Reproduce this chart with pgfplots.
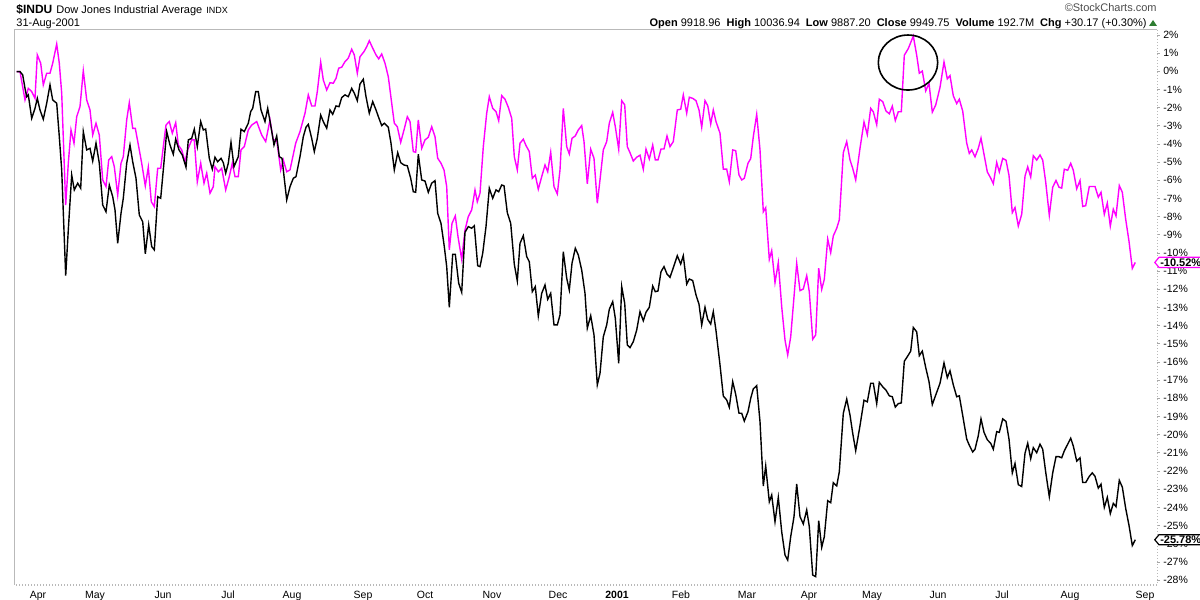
\documentclass[border=0pt]{standalone}
\usepackage{fontspec}
\setmainfont{Liberation Sans}
\usepackage{pgfplots}
\pgfplotsset{compat=1.18}
\usepackage{pgfplotstable}
\usetikzlibrary{shapes.symbols}
\definecolor{mag}{RGB}{255,0,255}
\definecolor{upgreen}{RGB}{46,125,50}

\pgfplotstableread{
x y
16.7 -0.02
20 -0.02
25 -1.58
28.3 -0.94
31.7 -1.12
35 -1.49
37.3 0.90
40.7 0.44
43.3 -0.75
46.7 -0.11
50 -0.11
52.7 0.44
56.7 1.50
59.3 0.44
61.7 -1.21
65.7 -7.36
68.3 -5.06
71 -3.23
74 -3.96
76.7 -2.50
80 -1.95
83.3 0.03
86.7 -1.58
90 -2.13
92.7 -3.51
96 -2.86
99.3 -3.51
102.7 -5.98
106 -6.35
108.7 -4.88
111.7 -4.70
114.3 -5.25
117.7 -6.81
121 -5.06
123.3 -4.70
126.7 -2.68
129.3 -1.73
132.7 -3.14
135.3 -3.14
138.7 -4.15
141.7 -5.06
145.3 -6.31
148.3 -5.28
151.3 -7.18
154.3 -7.45
157.7 -5.34
160.7 -5.34
163.3 -4.15
166 -2.96
169.3 -2.77
172.3 -3.41
175.7 -2.83
178.3 -4.06
181.7 -4.33
185 -4.98
187.7 -4.33
191.7 -3.78
194.3 -3.78
197.3 -6.08
200.7 -5.06
204 -6.16
206.7 -5.61
210 -6.71
213.3 -6.35
215 -5.25
218.3 -5.53
221.7 -5.34
225.7 -6.53
229.3 -5.80
232.3 -5.06
235 -5.80
238.3 -5.80
241 -4.33
244.3 -4.15
248.3 -3.23
251.7 -2.96
256.7 -2.77
261.7 -3.51
265.7 -3.87
270 -2.68
273.3 -3.78
276.7 -3.78
280.7 -5.43
283.3 -4.88
286.7 -5.53
290 -5.43
295.7 -3.96
300 -3.32
305 -2.31
308.3 -1.30
311.7 -1.91
315 -1.91
317.3 -1.12
320.7 0.50
323.3 -0.48
326.7 -1.03
330 -0.63
333.3 -0.66
336 -0.39
338.7 0.17
341.7 0.22
345 0.53
348.3 0.72
351.7 1.21
354.3 0.90
357.3 -0.11
360 0.80
364 1.08
366.7 1.35
369.3 1.68
372.7 1.27
376 0.90
378.7 0.68
381.7 0.95
385 0.44
388.3 -0.30
391.7 -1.76
394.3 -2.86
397.3 -3.05
400.7 -3.91
404 -3.23
407.3 -2.50
410 -2.77
413.3 -4.42
415.7 -4.46
418.3 -2.68
421.7 -4.24
425 -3.78
428.3 -3.63
431.7 -3.05
435 -3.60
437.7 -4.79
441 -5.06
444 -5.43
446.7 -6.35
449.3 -9.83
452 -8.37
455.3 -7.96
458 -9.10
461.7 -10.35
465 -8.73
468.3 -8.00
471.7 -7.63
475 -6.53
477.3 -7.18
480 -6.71
483.3 -4.15
486.7 -2.31
489.3 -1.40
492.7 -2.04
496 -2.22
498.7 -2.72
501.7 -1.34
505 -1.54
508.3 -1.98
511.7 -2.59
514.3 -4.70
517.3 -5.43
520 -3.96
523.3 -3.74
526 -4.09
529.3 -4.42
532.3 -5.89
535.3 -5.71
538.3 -6.49
541.7 -5.80
545 -5.16
547.7 -5.53
550.7 -4.46
554 -6.35
557.3 -6.75
560 -5.43
563.3 -2.04
566.7 -4.15
569.3 -4.55
572 -3.69
575.3 -3.56
578.3 -3.23
581.7 -2.99
584 -3.87
587.3 -6.20
590.7 -4.29
594 -4.79
597.3 -7.26
600 -5.98
603.3 -4.33
606.7 -3.87
609.3 -2.86
612.7 -2.26
615.3 -3.05
618.7 -4.29
621.7 -1.62
624.7 -1.85
627.3 -4.15
630 -4.48
633.3 -4.94
636.7 -4.73
640 -4.62
643.3 -5.39
646 -4.28
649.3 -4.83
652.7 -4.06
655.3 -4.88
658 -4.88
661 -4.28
664 -4.28
667 -3.56
670 -4.15
673.3 -3.87
677.3 -2.13
680.7 -2.09
683.3 -1.30
686.7 -2.31
689.3 -1.43
692.7 -1.49
696 -1.62
699 -2.13
701.7 -3.08
705 -1.62
707.7 -1.89
710.7 -2.90
713.3 -2.13
716 -2.77
720 -3.41
723.3 -5.39
726.7 -5.39
729.3 -6.08
732.7 -4.33
735.7 -4.37
739 -5.71
741.7 -5.98
744.3 -5.89
748 -5.06
750.7 -4.81
753.3 -3.60
756.7 -2.37
760 -4.33
763.3 -7.73
765.7 -7.51
769.3 -10.35
771.7 -9.87
775 -11.63
778.3 -10.53
781.7 -12.96
785 -14.79
787.7 -15.61
790.7 -14.61
794 -12.41
796.7 -10.57
800 -12.07
803.3 -11.98
806.7 -11.25
809.3 -12.13
812.7 -14.75
815.7 -14.51
818.7 -10.84
821.7 -12.00
824.3 -11.45
827.7 -9.23
830.7 -9.98
833.3 -9.06
836.7 -8.64
839.3 -8.18
843.3 -4.48
846.7 -3.87
850 -4.88
852.7 -5.34
855.7 -5.98
860 -4.24
864 -2.79
867.3 -3.49
870.7 -2.04
873.3 -2.23
876.7 -2.94
879.3 -1.54
882.7 -1.67
886 -2.19
889.3 -2.34
892.3 -1.92
895.3 -2.71
898.3 -2.23
901.3 -2.23
904.3 0.88
908.3 1.25
913.3 1.94
916.7 0.88
919.3 -0.11
922.3 0.01
925.7 -1.08
929 -0.67
932.3 -2.25
935.7 -1.86
940 -0.89
944 0.51
947.3 -0.42
950 -0.24
953.3 -1.35
956.7 -1.78
959.3 -1.54
962.7 -2.19
966.7 -3.96
969.3 -4.52
971.7 -4.33
975 -4.71
978.3 -4.24
981 -3.68
984 -4.57
987.3 -5.54
990.7 -5.88
993.3 -6.19
996.7 -5.02
999.3 -5.54
1002.7 -4.80
1006 -4.89
1009 -5.73
1012.3 -7.78
1015 -7.50
1018.3 -8.52
1021.7 -7.87
1025 -5.77
1027.7 -5.26
1030.7 -5.82
1033.3 -4.65
1036.7 -4.89
1040 -4.61
1042.7 -4.89
1045.7 -6.10
1049.3 -7.93
1052.7 -6.38
1056 -6.01
1059 -6.38
1061.7 -6.43
1064.3 -5.39
1067.7 -5.45
1070.7 -5.07
1073.3 -5.45
1076.7 -6.47
1080 -6.01
1082.7 -7.44
1085.7 -7.40
1089.3 -6.34
1095 -6.34
1098.3 -6.93
1101 -6.66
1104.3 -7.87
1107.3 -7.25
1110.3 -8.52
1113.3 -7.59
1116 -7.96
1119.3 -6.29
1122.3 -6.66
1125.7 -8.15
1129 -9.36
1132.3 -10.85
1135.3 -10.52
}\magdata

\pgfplotstableread{
x y
16.7 -0.02
20 -0.02
22.7 -0.20
25 -0.94
26.7 -1.40
28.3 -1.30
31.7 -2.59
35 -2.04
37.3 -1.49
40 -2.13
43.3 -2.64
46.7 -1.76
50 -0.75
52.7 -1.58
56.7 -1.76
59.3 -3.60
61.7 -5.43
65.7 -11.25
68.3 -8.73
71.7 -5.71
74.3 -6.53
77.7 -6.16
80.7 -6.44
83.3 -3.32
86.7 -4.33
90 -4.24
92.7 -4.94
96 -3.96
99.3 -5.06
102.7 -7.36
106 -7.73
109.3 -6.26
112.7 -6.90
115 -7.63
117.7 -9.47
121 -7.82
123.3 -6.99
126.7 -5.06
130 -4.06
132.7 -4.98
136 -5.89
139.3 -7.91
142.7 -8.28
145.3 -10.05
148.7 -8.46
151.7 -9.65
154.3 -9.83
157.7 -6.90
160.7 -6.99
163.3 -5.43
166.7 -3.32
170 -4.06
173.3 -4.57
175.7 -3.73
179 -4.33
182.3 -4.61
186 -5.28
188.3 -3.78
191.7 -3.69
194.3 -3.19
197.3 -4.15
200.7 -2.77
203.3 -3.23
205.7 -3.18
209.3 -4.79
212.3 -5.39
215 -4.73
217.7 -4.98
221 -4.79
223.3 -5.03
225.7 -5.61
228.3 -5.06
231 -3.91
234 -5.25
238.3 -4.70
241 -3.19
244.3 -3.32
248.3 -2.86
250.7 -2.22
252.7 -2.04
255.7 -1.12
258.3 -1.12
261 -2.13
265 -2.77
267.7 -2.04
270.7 -2.96
274 -4.06
276.7 -3.56
279.3 -4.70
282 -4.79
286.7 -7.08
290 -6.35
293.3 -5.89
296 -5.80
300 -4.70
303.3 -3.60
306 -3.08
308.3 -2.92
311.7 -3.69
314.3 -4.42
317.3 -3.69
320.7 -2.41
323.3 -2.77
326.7 -3.14
330 -2.13
332.7 -2.37
336 -1.91
339 -1.95
341.7 -1.45
345 -1.30
348.3 -1.40
351.7 -0.94
354.3 -1.21
357.3 -1.62
360 -0.70
363.3 -0.44
366 -1.40
369.3 -2.31
372.7 -1.67
376 -2.13
378.7 -2.55
381.7 -2.99
384.3 -2.86
388.3 -3.08
391 -3.96
394.3 -5.43
397.7 -4.48
400.7 -5.03
404 -5.16
407.3 -5.20
410.7 -5.89
413.3 -6.63
415.7 -6.66
418.3 -4.57
421.7 -5.98
425 -6.04
428.3 -6.66
431.7 -6.16
435 -6.02
437.7 -7.82
441 -8.37
444.3 -9.65
446.7 -10.75
449.3 -12.99
452.7 -10.07
455.3 -10.07
458.7 -11.67
461.7 -12.16
465 -8.86
468.3 -8.55
471.7 -8.64
474.3 -8.50
477.7 -10.70
480 -10.75
482.7 -10.02
486 -8.55
489.3 -6.44
492.7 -6.99
496 -6.53
498.7 -6.63
501.7 -6.26
504 -6.30
507.3 -7.78
510.7 -8.37
514.3 -10.62
517.3 -11.54
520 -9.47
523.3 -9.05
526.7 -10.20
529.3 -10.48
532.3 -12.13
535.3 -11.85
538.3 -13.47
541.7 -12.22
545 -11.76
547.7 -12.55
550.7 -12.22
554 -13.96
557.3 -13.96
560 -13.41
563.3 -9.93
566.7 -11.39
569.3 -12.04
572 -10.57
575.3 -9.74
578.3 -10.11
581.7 -10.94
585 -12.22
587.3 -14.14
590.7 -13.45
594 -14.51
597.3 -17.26
600 -16.62
603.3 -14.61
606.7 -13.96
609.3 -13.10
612.7 -12.68
615.3 -13.59
618.7 -16.07
621.7 -11.85
624.7 -12.77
627.3 -15.06
630 -15.21
633.3 -14.88
636.7 -14.24
640 -13.23
643.3 -13.73
646 -13.26
649.3 -12.99
652.7 -11.82
655.3 -12.13
658 -12.09
661 -11.03
664 -10.75
667 -11.16
670 -11.34
673.3 -10.81
677.3 -10.15
680.7 -10.61
683.3 -10.15
686.7 -11.71
689.3 -11.43
692.7 -11.52
696 -12.31
699 -12.82
701.7 -13.96
705 -12.99
707.7 -13.65
710.7 -13.91
713.3 -13.23
716 -14.28
720 -16.16
723.3 -17.87
726.7 -18.09
729.3 -18.49
732.7 -17.08
735.7 -17.78
739 -18.82
741.7 -18.82
744.3 -19.25
748 -18.73
750.7 -18.00
753.3 -17.48
756.7 -17.30
760 -19.28
763.3 -22.82
765.7 -21.72
769.3 -23.69
771.7 -23.32
775 -24.79
778.3 -23.45
781.7 -25.34
785 -26.62
787.7 -26.90
790.7 -25.61
794 -24.51
796.7 -22.71
800 -24.51
803.3 -24.91
806.7 -24.14
809.3 -25.06
812.7 -27.72
815.7 -27.81
818.7 -24.73
821.7 -26.20
824.3 -25.61
827.7 -23.63
830.7 -23.74
833.3 -22.64
836.7 -22.82
839.3 -22.04
843.3 -18.82
846.7 -18.04
850 -18.92
852.7 -19.92
855.7 -20.88
860 -19.50
864 -18.10
867.3 -18.19
870.7 -17.17
873.3 -17.17
876.7 -18.29
879.3 -17.12
882.7 -17.36
886 -17.55
889.3 -17.86
892.3 -17.91
895.3 -18.48
898.3 -18.29
901.3 -18.25
904.3 -15.96
908.3 -15.62
910.7 -15.40
913.3 -14.10
916.7 -14.34
919.3 -15.65
922.3 -15.40
925.7 -16.30
929 -17.08
932.3 -18.34
935.7 -17.82
940 -17.17
944 -16.05
947.3 -16.86
950 -16.48
953.3 -17.26
956.7 -17.91
959.3 -17.86
962.7 -18.94
966.7 -20.24
969.3 -20.58
972.7 -20.95
975 -20.80
978.3 -20.05
981 -19.13
984 -19.87
987.3 -20.28
990.7 -20.47
993.3 -20.80
996.7 -19.83
999.3 -19.87
1002.7 -19.13
1006 -19.27
1009 -20.24
1012.3 -22.10
1015 -21.58
1018.3 -22.75
1021.7 -22.85
1025 -21.02
1027.7 -20.47
1030.7 -21.32
1033.3 -20.71
1036.7 -20.99
1040 -20.52
1042.7 -20.80
1045.7 -22.06
1049.3 -23.41
1052.7 -22.10
1056 -21.21
1059 -21.21
1061.7 -21.27
1064.3 -20.89
1067.7 -20.52
1070.7 -20.19
1073.3 -20.62
1076.7 -21.45
1080 -21.27
1082.7 -22.63
1085.7 -22.63
1089.3 -22.29
1092.3 -22.10
1095 -22.29
1098.3 -22.94
1101 -22.72
1104.3 -24.00
1107.3 -23.45
1110.3 -24.34
1113.3 -23.78
1116 -23.96
1119.3 -22.51
1122.3 -22.88
1125.7 -24.06
1129 -24.99
1132.3 -26.10
1135.3 -25.78
}\blkdata

\begin{document}
\begin{tikzpicture}
\path[use as bounding box] (0,0) rectangle (600pt,300pt);
\begin{axis}[
  at={(7pt,7.5pt)}, anchor=south west,
  width=571.5pt, height=277.5pt, scale only axis,
  xmin=14, xmax=1157, ymin=-28.27, ymax=2.27,
  axis line style={draw=none},
  clip=false,
  xtick={38,95,163,228,292,363,425,492,558,617,681,747,809,872,938,1002,1070,1145},
  xticklabels={Apr,May,Jun,Jul,Aug,Sep,Oct,Nov,Dec,\textbf{2001},Feb,Mar,Apr,May,Jun,Jul,Aug,Sep},
  major x tick style={draw=none},
  xticklabel style={font=\fontsize{5.25}{6}\selectfont, text=black, inner sep=0pt, anchor=base, yshift=-5pt},
  ytick={-28,-27,...,2},
  yticklabels={-28\%,-27\%,-26\%,-25\%,-24\%,-23\%,-22\%,-21\%,-20\%,-19\%,-18\%,-17\%,-16\%,-15\%,-14\%,-13\%,-12\%,-11\%,-10\%,-9\%,-8\%,-7\%,-6\%,-5\%,-4\%,-3\%,-2\%,-1\%,0\%,1\%,2\%},
  ytick pos=right, yticklabel pos=right,
  tick align=outside, major tick length=1.5pt,
  major y tick style={gray!70, line width=0.4pt},
  yticklabel style={font=\fontsize{5.25}{6}\selectfont, text=black, inner sep=0pt, anchor=west, xshift=1.5pt},
]
\addplot[mag, line width=0.7pt] table[x=x,y=y] {\magdata};
\addplot[black, line width=0.7pt] table[x=x,y=y] {\blkdata};
\draw[gray!55, line width=0.5pt] (rel axis cs:0,0) -- (rel axis cs:0,1) -- (rel axis cs:1,1);
\draw[gray!55, line width=0.5pt, densely dotted] (rel axis cs:1,1) -- (rel axis cs:1,0) -- (rel axis cs:0,0);
\draw[black, line width=0.8pt] (axis cs:908,0.48) ellipse [x radius=14.85pt, y radius=13.75pt];
\node[signal, signal to=west, signal pointer angle=100, draw=mag, fill=white, line width=0.6pt, inner sep=0.6pt, font=\fontsize{5.5}{6}\selectfont\bfseries, anchor=west] at (axis cs:1154,-10.52) {-10.52\%};
\node[signal, signal to=west, signal pointer angle=100, draw=black, fill=white, line width=0.6pt, inner sep=0.6pt, font=\fontsize{5.5}{6}\selectfont\bfseries, anchor=west] at (axis cs:1154,-25.78) {-25.78\%};
\end{axis}
\node[anchor=base west, inner sep=0pt] at (8pt,293.4pt) {{\fontsize{6}{7}\selectfont\bfseries\$INDU}\hspace{2pt}{\fontsize{5.5}{6}\selectfont Dow Jones Industrial Average}\hspace{2pt}{\fontsize{4.5}{5}\selectfont INDX}};
\node[anchor=base west, inner sep=0pt] at (8pt,286.7pt) {\fontsize{5.5}{6}\selectfont 31-Aug-2001};
\node[anchor=base east, inner sep=0pt, text=black!70] at (578.5pt,294pt) {\fontsize{5.5}{6}\selectfont ©StockCharts.com};
\node[anchor=base east, inner sep=0pt] at (573.5pt,286.7pt) {\fontsize{5.5}{6}\selectfont \textbf{Open} 9918.96\hspace{3pt}\textbf{High} 10036.94\hspace{3pt}\textbf{Low} 9887.20\hspace{3pt}\textbf{Close} 9949.75\hspace{3pt}\textbf{Volume} 192.7M\hspace{3pt}\textbf{Chg} +30.17 (+0.30\%)};
\fill[upgreen] (574.5pt,287pt) -- (578.5pt,287pt) -- (576.5pt,290pt) -- cycle;
\end{tikzpicture}
\end{document}
